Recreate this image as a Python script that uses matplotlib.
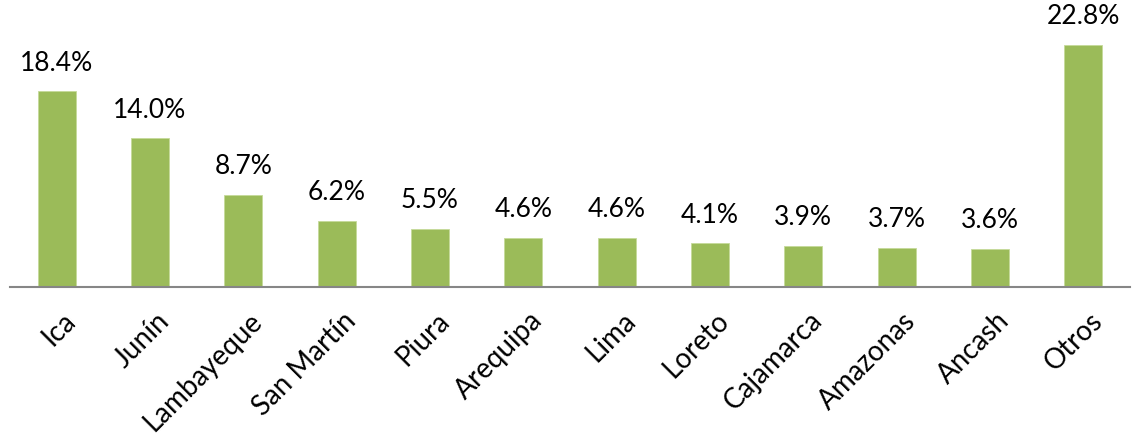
import matplotlib
matplotlib.use("Agg")
import matplotlib.pyplot as plt
from matplotlib.transforms import ScaledTranslation

categories = ["Ica", "Junín", "Lambayeque", "San Martín", "Piura", "Arequipa",
              "Lima", "Loreto", "Cajamarca", "Amazonas", "Ancash", "Otros"]
values = [18.4, 14.0, 8.7, 6.2, 5.5, 4.6, 4.6, 4.1, 3.9, 3.7, 3.6, 22.8]
value_labels = ["18.4%", "14.0%", "8.7%", "6.2%", "5.5%", "4.6%", "4.6%",
                "4.1%", "3.9%", "3.7%", "3.6%", "22.8%"]

plt.rcParams['font.family'] = ['Lato', 'DejaVu Sans']

fig = plt.figure(figsize=(11.35, 4.35), dpi=100)
ax = fig.add_axes([10/1135, 1 - 288/435, 1120/1135, 288/435])

x = range(len(categories))
ax.bar(x, values, width=0.41, color="#9BBB59", edgecolor="#C5DA9A", linewidth=0.6)

for xi, v, lab in zip(x, values, value_labels):
    ax.annotate(lab, (xi, v), xytext=(0, 12), textcoords="offset points",
                ha="center", va="bottom", fontsize=19, color="#000000")

ax.set_xlim(-0.5, len(categories) - 0.5)
ax.set_ylim(0, 27.1)
ax.set_yticks([])
ax.set_xticks(list(x))
ax.set_xticklabels(categories, rotation=45, ha="right", rotation_mode="anchor",
                   fontsize=20)
ax.tick_params(axis="x", length=0, pad=14)
offset = ScaledTranslation(6/100, 0, fig.dpi_scale_trans)
for lbl in ax.get_xticklabels():
    lbl.set_transform(lbl.get_transform() + offset)
for s in ["top", "right", "left"]:
    ax.spines[s].set_visible(False)
ax.spines["bottom"].set_color("#868686")
ax.spines["bottom"].set_linewidth(1.5)

fig.savefig("out.png", dpi=100)
